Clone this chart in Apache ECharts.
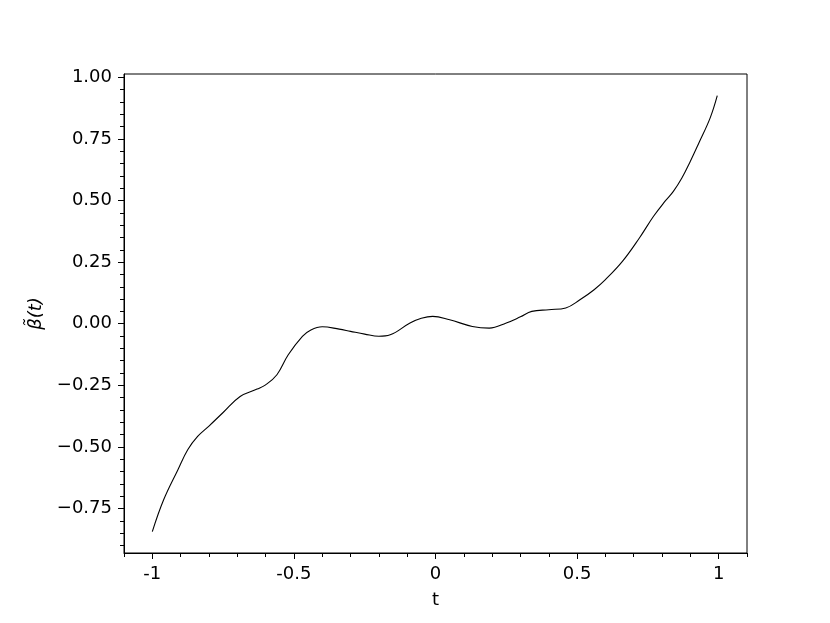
<!DOCTYPE html>
<html lang="en">
<head>
    <meta charset="UTF-8">
    <title>beta tilde</title>
    <script src="https://cdn.jsdelivr.net/npm/echarts@6/dist/echarts.min.js"></script>
    <style>
        html, body { margin: 0; padding: 0; background: #fff; }
    </style>
</head>
<body>
<div id="main" style="width: 830px;height:623px;"></div>
<script type="text/javascript">
    // values
    var tValues = [-1.00, -0.96, -0.91, -0.875, -0.84, -0.80, -0.75, -0.69, -0.63, -0.60,
        -0.56, -0.52, -0.47, -0.44, -0.40, -0.34, -0.30, -0.25, -0.20, -0.16,
        -0.09, -0.05, -0.01, 0.05, 0.13, 0.19, 0.25, 0.30, 0.34, 0.40, 0.46,
        0.51, 0.56, 0.60, 0.66, 0.72, 0.77, 0.81, 0.84, 0.87, 0.90,
        0.93, 0.97, 0.995];
    var betaValues = [-0.843, -0.714, -0.593, -0.511, -0.457, -0.415, -0.360, -0.295, -0.265, -0.248,
        -0.207, -0.126, -0.051, -0.025, -0.012, -0.022, -0.031, -0.042, -0.051, -0.045,
        0.003, 0.022, 0.030, 0.016, -0.011, -0.018, 0.003, 0.028, 0.050, 0.057, 0.064,
        0.097, 0.138, 0.179, 0.253, 0.348, 0.436, 0.496, 0.537, 0.591, 0.659,
        0.733, 0.835, 0.925];
    var xTicks = [-1, -0.5, 0, 0.5, 1];
    var yTicks = [-0.75, -0.5, -0.25, 0, 0.25, 0.5, 0.75, 1.0];
    var xMinorTicks = [-1.1, -1.0, -0.9, -0.8, -0.7, -0.6, -0.5, -0.4, -0.3, -0.2, -0.1, 0,
        0.1, 0.2, 0.3, 0.4, 0.5, 0.6, 0.7, 0.8, 0.9, 1.0, 1.1];
    var yMinorTicks = [-0.9, -0.85, -0.8, -0.75, -0.7, -0.65, -0.6, -0.55, -0.5, -0.45, -0.4, -0.35,
        -0.3, -0.25, -0.2, -0.15, -0.1, -0.05, 0, 0.05, 0.1, 0.15, 0.2, 0.25, 0.3, 0.35,
        0.4, 0.45, 0.5, 0.55, 0.6, 0.65, 0.7, 0.75, 0.8, 0.85, 0.9, 0.95, 1.0];

    var xMin = -1.1, xMax = 1.1, yMin = -0.93, yMax = 1.013;
    var font = 'DejaVu Sans';

    var points = [];
    for (var i = 0; i < tValues.length; i++) {
        points.push([tValues[i], betaValues[i]]);
    }

    var myChart = echarts.init(document.getElementById('main'));
    myChart.setOption({
        animation: false,
        backgroundColor: '#fff',
        grid: {
            left: 124, right: 83, top: 74, bottom: 70,
            show: true, borderColor: '#000', borderWidth: 1, backgroundColor: '#fff'
        },
        xAxis: [{
            type: 'value', min: xMin, max: xMax,
            name: 't', nameLocation: 'middle', nameGap: 38,
            nameTextStyle: { fontFamily: font, fontSize: 18, color: '#000' },
            axisLine: { show: true, onZero: false, lineStyle: { color: '#000', width: 1 } },
            axisTick: { show: true, length: 6, customValues: xTicks, lineStyle: { color: '#000' } },
            axisLabel: {
                customValues: xTicks, margin: 12,
                fontFamily: font, fontSize: 18, color: '#000',
                formatter: function (v) { return String(v); }
            },
            splitLine: { show: false }
        }, {
            type: 'value', min: xMin, max: xMax, position: 'bottom',
            axisLine: { show: false, onZero: false },
            axisTick: { show: true, length: 4, customValues: xMinorTicks, lineStyle: { color: '#000' } },
            axisLabel: { show: false },
            splitLine: { show: false }
        }],
        yAxis: [{
            type: 'value', min: yMin, max: yMax,
            name: 'β̃(t)', nameLocation: 'middle', nameGap: 79,
            nameTextStyle: { fontFamily: font, fontSize: 18, fontStyle: 'italic', color: '#000' },
            axisLine: { show: true, onZero: false, lineStyle: { color: '#000', width: 1 } },
            axisTick: { show: true, length: 6, customValues: yTicks, lineStyle: { color: '#000' } },
            axisLabel: {
                customValues: yTicks, margin: 12,
                fontFamily: font, fontSize: 18, color: '#000',
                formatter: function (v) { return v.toFixed(2).replace('-', '\u2212'); }
            },
            splitLine: { show: false }
        }, {
            type: 'value', min: yMin, max: yMax, position: 'left', offset: 0,
            axisLine: { show: false, onZero: false },
            axisTick: { show: true, length: 4, customValues: yMinorTicks, lineStyle: { color: '#000' } },
            axisLabel: { show: false },
            splitLine: { show: false }
        }],
        series: [{
            type: 'line',
            data: points,
            xAxisIndex: 0, yAxisIndex: 0,
            smooth: 0.4,
            showSymbol: false,
            lineStyle: { color: '#000', width: 1.1 }
        }]
    });
</script>
</body>
</html>
